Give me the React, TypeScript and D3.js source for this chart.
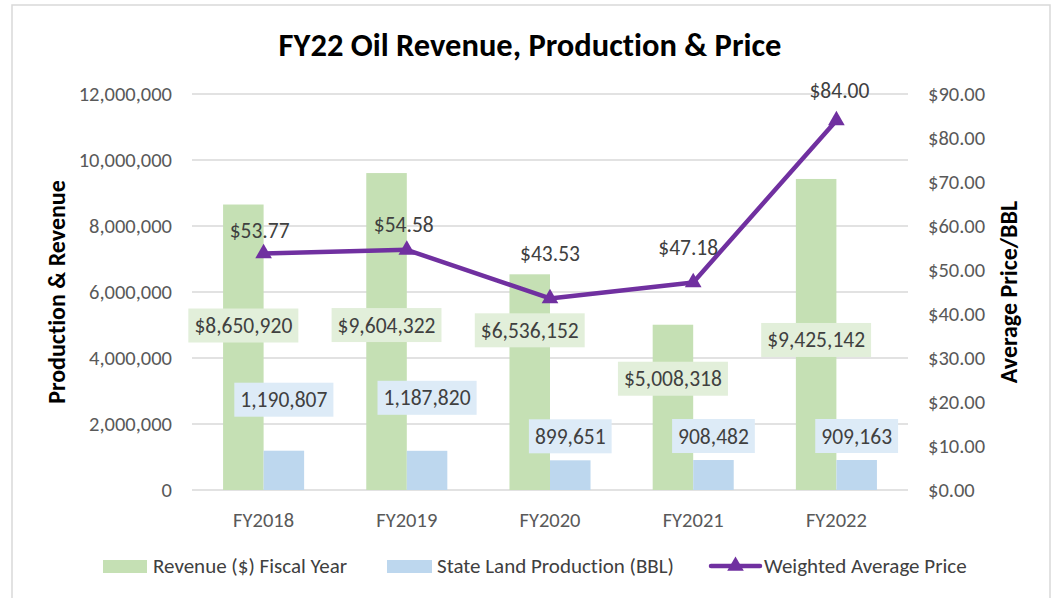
import React, { useEffect, useRef } from "react";
import * as d3 from "d3";

// ---- data ----
const categories = ["FY2018", "FY2019", "FY2020", "FY2021", "FY2022"];
const revenue = [8650920, 9604322, 6536152, 5008318, 9425142];
const production = [1190807, 1187820, 899651, 908482, 909163];
const price = [53.77, 54.58, 43.53, 47.18, 84.0];
const leftTicks = [0, 2000000, 4000000, 6000000, 8000000, 10000000, 12000000];
const rightTicks = [0, 10, 20, 30, 40, 50, 60, 70, 80, 90];
const seriesNames = ["Revenue ($) Fiscal Year", "State Land Production (BBL)", "Weighted Average Price"];

// ---- label placement (pixel offsets, as dragged in the original) ----
const revLabelDy = [121, 152, 56, 54, 161];
const prodLabelDy = [-51, -53, -24, -24, -24];
const priceLabelDy = [-23, -25, -45, -35, -30];
const priceLabelDx = [-4, -3, 0, -5, 3];

const FONT = "Carlito, Calibri, Lato, sans-serif";
const GREEN = "#C5E0B4";
const BLUE = "#BDD7EE";
const GREEN_LBL = "#E2EFDA";
const BLUE_LBL = "#DDEBF7";
const PURPLE = "#7030A0";
const GRID = "#D9D9D9";
const AXIS_TXT = "#595959";
const LBL_TXT = "#404040";

export default function App() {
  const ref = useRef<SVGSVGElement | null>(null);

  useEffect(() => {
    const svg = d3.select(ref.current);
    svg.selectAll("*").remove();
    const left = 192, right = 908, top = 94, bottom = 490;

    svg.append("rect").attr("x", 12).attr("y", 5).attr("width", 1038).attr("height", 620)
      .attr("fill", "#fff").attr("stroke", GRID).attr("stroke-width", 1.5);

    const x = d3.scaleBand<string>().domain(categories).range([left, right])
      .paddingInner(0.434).paddingOuter(0.217);
    const xs = d3.scaleBand<string>().domain(["rev", "prod"]).range([0, x.bandwidth()]);
    const yL = d3.scaleLinear().domain([0, 12000000]).range([bottom, top]);
    const yR = d3.scaleLinear().domain([0, 90]).range([bottom, top]);

    // title
    svg.append("text").attr("x", 530).attr("y", 56).attr("text-anchor", "middle")
      .attr("font-family", FONT).attr("font-weight", "bold").attr("font-size", 32.5)
      .attr("fill", "#000").text("FY22 Oil Revenue, Production & Price");

    // grid
    const g = svg.append("g");
    g.selectAll("line.grid").data(leftTicks).join("line")
      .attr("x1", left).attr("x2", right)
      .attr("y1", d => yL(d)).attr("y2", d => yL(d))
      .attr("stroke", GRID).attr("stroke-width", 1.5);

    // left axis labels
    const fmtInt = d3.format(",");
    g.selectAll("text.lt").data(leftTicks).join("text")
      .attr("x", 172).attr("y", d => yL(d)).attr("dy", "0.35em").attr("text-anchor", "end")
      .attr("font-family", FONT).attr("font-size", 20.5).attr("fill", AXIS_TXT)
      .text(d => fmtInt(d));

    // right axis labels
    const fmtMoney = (v: number) => "$" + d3.format(",.2f")(v);
    g.selectAll("text.rt").data(rightTicks).join("text")
      .attr("x", 928).attr("y", d => yR(d)).attr("dy", "0.35em").attr("text-anchor", "start")
      .attr("font-family", FONT).attr("font-size", 20.5).attr("fill", AXIS_TXT)
      .text(d => fmtMoney(d));

    // category labels
    g.selectAll("text.cat").data(categories).join("text")
      .attr("x", d => (x(d) as number) + x.bandwidth() / 2).attr("y", 520).attr("dy", "0.35em")
      .attr("text-anchor", "middle").attr("font-family", FONT).attr("font-size", 20.5).attr("fill", AXIS_TXT)
      .text(d => d);

    // axis titles
    svg.append("text").attr("transform", `translate(57,292) rotate(-90)`).attr("text-anchor", "middle")
      .attr("dy", "0.35em").attr("font-family", FONT).attr("font-weight", "bold").attr("font-size", 24)
      .attr("fill", "#000").text("Production & Revenue");
    svg.append("text").attr("transform", `translate(1009,292) rotate(-90)`).attr("text-anchor", "middle")
      .attr("dy", "0.35em").attr("font-family", FONT).attr("font-weight", "bold").attr("font-size", 24)
      .attr("fill", "#000").text("Average Price/BBL");

    // bars
    const bars = svg.append("g");
    bars.selectAll("rect.rev").data(categories).join("rect")
      .attr("x", d => (x(d) as number) + (xs("rev") as number))
      .attr("width", xs.bandwidth())
      .attr("y", (d, i) => yL(revenue[i]))
      .attr("height", (d, i) => bottom - yL(revenue[i]))
      .attr("fill", GREEN);
    bars.selectAll("rect.prod").data(categories).join("rect")
      .attr("x", d => (x(d) as number) + (xs("prod") as number))
      .attr("width", xs.bandwidth())
      .attr("y", (d, i) => yL(production[i]))
      .attr("height", (d, i) => bottom - yL(production[i]))
      .attr("fill", BLUE);

    // line
    const cx = (i: number) => (x(categories[i]) as number) + x.bandwidth() / 2;
    const line = d3.line<number>().x((d, i) => cx(i)).y(d => yR(d));
    svg.append("path").datum(price).attr("d", line).attr("fill", "none")
      .attr("stroke", PURPLE).attr("stroke-width", 4.5).attr("stroke-linejoin", "round");
    const tri = d3.symbol().type(d3.symbolTriangle).size(120);
    svg.selectAll("path.mk").data(price).join("path")
      .attr("d", tri).attr("transform", (d, i) => `translate(${cx(i)},${yR(d)})`)
      .attr("fill", PURPLE);

    // boxed labels
    const boxLabel = (cxp: number, cyp: number, txt: string, fill: string) => {
      const grp = svg.append("g");
      const r = grp.append("rect").attr("fill", fill);
      const t = grp.append("text").attr("x", cxp).attr("y", cyp).attr("dy", "0.35em")
        .attr("text-anchor", "middle").attr("font-family", FONT).attr("font-size", 21.5)
        .attr("fill", LBL_TXT).text(txt);
      const bb = (t.node() as SVGTextElement).getBBox();
      const w = bb.width + 12, h = 34;
      r.attr("x", cxp - w / 2).attr("y", cyp - h / 2).attr("width", w).attr("height", h);
    };
    revenue.forEach((v, i) => {
      const bx = (x(categories[i]) as number) + (xs("rev") as number) + xs.bandwidth() / 2;
      boxLabel(bx, yL(v) + revLabelDy[i], "$" + fmtInt(v), GREEN_LBL);
    });
    production.forEach((v, i) => {
      const bx = (x(categories[i]) as number) + (xs("prod") as number) + xs.bandwidth() / 2;
      boxLabel(bx, yL(v) + prodLabelDy[i], fmtInt(v), BLUE_LBL);
    });
    price.forEach((v, i) => {
      svg.append("text").attr("x", cx(i) + priceLabelDx[i]).attr("y", yR(v) + priceLabelDy[i])
        .attr("dy", "0.35em").attr("text-anchor", "middle").attr("font-family", FONT)
        .attr("font-size", 21.5).attr("fill", LBL_TXT).text(fmtMoney(v));
    });

    // legend
    const lg = svg.append("g");
    const ly = 566;
    lg.append("rect").attr("x", 103).attr("y", 560).attr("width", 44).attr("height", 13).attr("fill", GREEN);
    lg.append("text").attr("x", 153).attr("y", ly).attr("dy", "0.35em").attr("font-family", FONT)
      .attr("font-size", 21).attr("fill", LBL_TXT).text(seriesNames[0]);
    lg.append("rect").attr("x", 387).attr("y", 560).attr("width", 45).attr("height", 13).attr("fill", BLUE);
    lg.append("text").attr("x", 437).attr("y", ly).attr("dy", "0.35em").attr("font-family", FONT)
      .attr("font-size", 21).attr("fill", LBL_TXT).text(seriesNames[1]);
    lg.append("line").attr("x1", 711).attr("x2", 760).attr("y1", ly).attr("y2", ly)
      .attr("stroke", PURPLE).attr("stroke-width", 4.5).attr("stroke-linecap", "round");
    lg.append("path").attr("d", tri).attr("transform", `translate(735.5,${ly})`).attr("fill", PURPLE);
    lg.append("text").attr("x", 764).attr("y", ly).attr("dy", "0.35em").attr("font-family", FONT)
      .attr("font-size", 21).attr("fill", LBL_TXT).text(seriesNames[2]);
  }, []);

  return (
    <svg ref={ref} width={1053} height={598}
      style={{ position: "absolute", left: 0, top: 0, display: "block", background: "#fff", fontVariantLigatures: "none" }} />
  );
}
